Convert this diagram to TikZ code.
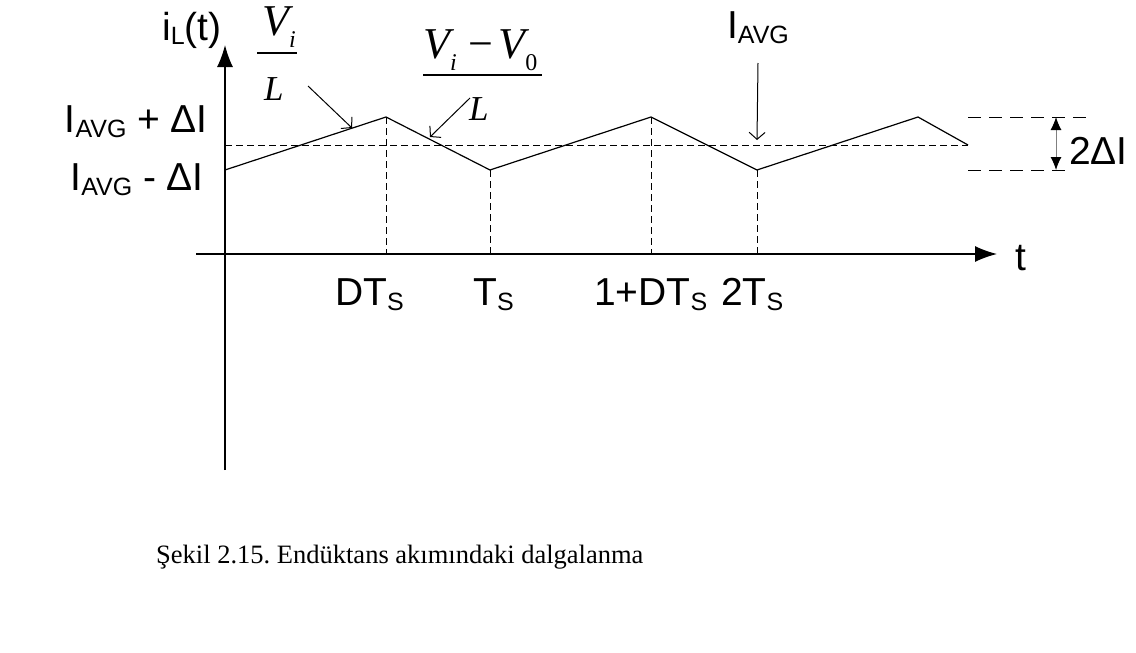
\documentclass[tikz,border=0pt]{standalone}
\usepackage{fontspec}
\setmainfont{Liberation Sans}
\newfontfamily\serifrm{Liberation Serif}
\usetikzlibrary{arrows.meta,positioning}
\frenchspacing

\newcommand{\sbs}[1]{\raisebox{-5pt}{\fontsize{25}{25}\selectfont #1}}
\newcommand{\fsub}[1]{\raisebox{-12pt}{\fontsize{24}{24}\selectfont #1}}

\tikzset{
  lbl/.style={inner sep=0pt, font=\fontsize{39}{42}\selectfont},
  fracnum/.style={inner sep=0pt, font=\fontsize{44}{48}\selectfont\serifrm\itshape},
  fracden/.style={inner sep=0pt, font=\fontsize{35}{40}\selectfont\serifrm\itshape},
  fracbar/.style={line width=2pt},
  axis/.style={line width=1.3pt, -{Latex[length=22pt,width=16pt]}},
  wave/.style={line width=1.2pt},
  guide/.style={line width=1pt, dash pattern=on 7pt off 4pt},
  farguide/.style={line width=1pt, dash pattern=on 13pt off 8pt},
  pointer/.style={line width=1pt, -{Straight Barb[length=7pt,width=16pt]}},
}

\begin{document}
\begin{tikzpicture}[x=1pt,y=-1pt]
  \useasboundingbox (0,0) rectangle (1136,653);

  % axes
  \coordinate (o) at (225,254);
  \coordinate (ytop) at (225,45);
  \coordinate (ybot) at (225,470);
  \coordinate (xleft) at (196,254);
  \coordinate (xright) at (997,254);
  \draw[axis] (ybot) -- (ytop);
  \draw[axis] (xleft) -- (xright);

  % inductor current ripple
  \coordinate (p0) at (225,170);
  \coordinate (p1) at (386,117);
  \coordinate (p2) at (490,170);
  \coordinate (p3) at (651,117);
  \coordinate (p4) at (757,170);
  \coordinate (p5) at (918,117);
  \coordinate (p6) at (968,145);
  \draw[wave] (p0) -- (p1) -- (p2) -- (p3) -- (p4) -- (p5) -- (p6);

  \coordinate (avg) at (225,145);
  \draw[guide] (avg) -- (p6);
  \foreach \p in {p1,p2,p3,p4}
    \draw[guide] (\p) -- (\p |- o);

  % ripple band
  \coordinate (hiL) at (968,117);
  \coordinate (hiR) at (1090,117);
  \coordinate (loL) at (968,170);
  \coordinate (loR) at (1068,170);
  \draw[farguide] (hiL) -- (hiR);
  \draw[farguide] (loL) -- (loR);
  \coordinate (bandtop) at (1056,117);
  \coordinate (bandbot) at (1056,170);
  \draw[line width=1pt, gray, {Latex[length=13pt,width=11pt,color=black]}-{Latex[length=13pt,width=11pt,color=black]}] (bandtop) -- (bandbot);
  \node[lbl, anchor=base west] (band) at (1069,164) {2ΔI};

  % axis labels
  \node[lbl, anchor=base] (ilabel) at (192,40) {i\sbs{L}(t)};
  \node[lbl, anchor=base] (tlabel) at (1021,270) {t};
  \node[lbl, anchor=base east] (imax) at (208,132) {I\sbs{AVG} + ΔI};
  \node[lbl, anchor=base east] (imin) at (204,190) {I\sbs{AVG} - ΔI};

  \node[lbl, anchor=base west] (tdts) at (335,305) {DT\sbs{S}};
  \node[lbl, anchor=base west] (tts) at (473,305) {T\sbs{S}};
  \node[lbl, anchor=base west] (tonedts) at (594,305) {1+DT\sbs{S}};
  \node[lbl, anchor=base west] (ttwots) at (721,305) {2T\sbs{S}};

  % slopes
  \node[fracnum, anchor=base west] (upnum) at (262,35) {V\fsub{i}};
  \node[fracden, anchor=base west] (upden) at (264,100) {L};
  \draw[fracbar] (257,53) -- (297,53);
  \node[fracnum, anchor=base west] (dnnum) at (423,58) {V\fsub{i}\hspace{12pt}{\upshape −}\hspace{5pt}V\fsub{\upshape 0}};
  \node[fracden, anchor=base west] (dnden) at (469,120) {L};
  \draw[fracbar] (423,75) -- (542,75);

  \coordinate (upfrom) at (308,86);
  \coordinate (upto) at (352,128);
  \coordinate (dnfrom) at (470,98);
  \coordinate (dnto) at (430,137);
  \draw[pointer] (upfrom) -- (upto);
  \draw[pointer] (dnfrom) -- (dnto);

  \node[lbl, anchor=base] (iavg) at (758,38) {I\sbs{AVG}};
  \coordinate (avgto) at (757,140);
  \draw[pointer] (iavg.south |- 0,63) -- (avgto);

  \node[anchor=base west, inner sep=0pt, font=\serifrm\fontsize{26.5}{30}\selectfont] (caption) at (156,563) {Şekil 2.15. Endüktans akımındaki dalgalanma};
\end{tikzpicture}
\end{document}
